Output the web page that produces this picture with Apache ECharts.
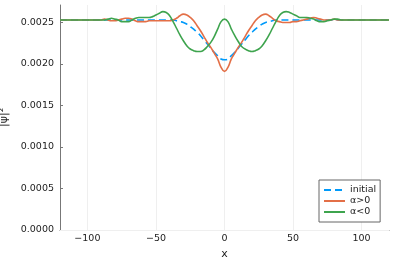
<!DOCTYPE html>
<html>
<head>
<meta charset="utf-8">
<script src="https://cdn.jsdelivr.net/npm/echarts@6/dist/echarts.min.js"></script>
<style>html,body{margin:0;padding:0;background:#fff;}#c{width:397px;height:267px;}</style>
</head>
<body>
<div id="c"></div>
<script>
var xs = [-120,-110,-100,-95,-92.5,-90,-87.5,-85,-82.5,-80,-77.5,-75,-72.5,-70,-67.5,-65,-62.5,-60,-57.5,-55,-52.5,-50,-47.5,-45,-42.5,-40,-37.5,-35,-32.5,-30,-27.5,-25,-22.5,-20,-17.5,-15,-12.5,-10,-7.5,-5,-2.5,0,2.5,5,7.5,10,12.5,15,17.5,20,22.5,25,27.5,30,32.5,35,37.5,40,42.5,45,47.5,50,52.5,55,57.5,60,62.5,65,67.5,70,72.5,75,77.5,80,82.5,85,87.5,90,92.5,95,100,110,120];

var initialVals = [0.00253,0.00253,0.00253,0.00253,0.00253,0.00253,0.00253,0.00253,0.00253,0.00253,0.00253,0.00253,0.00253,0.00253,0.00253,0.00253,0.00253,0.00253,0.00253,0.00253,0.00253,0.00253,0.00253,0.00253,0.00253,0.00253,0.00253,0.00252,0.00251,0.00250,0.00248,0.00245,0.00242,0.00238,0.00234,0.00229,0.00224,0.00219,0.00214,0.00210,0.00206,0.00205,0.00206,0.00210,0.00214,0.00219,0.00224,0.00229,0.00234,0.00238,0.00242,0.00245,0.00248,0.00250,0.00251,0.00252,0.00253,0.00253,0.00253,0.00253,0.00253,0.00253,0.00253,0.00253,0.00253,0.00253,0.00253,0.00253,0.00253,0.00253,0.00253,0.00253,0.00253,0.00253,0.00253,0.00253,0.00253,0.00253,0.00253,0.00253,0.00253,0.00253,0.00253];

var posVals = [0.00253,0.00253,0.00253,0.00253,0.00253,0.00253,0.00254,0.00253,0.00252,0.00252,0.00253,0.00254,0.00255,0.00255,0.00254,0.00252,0.00251,0.00251,0.00251,0.00252,0.00252,0.00252,0.00252,0.00252,0.00252,0.00252,0.00253,0.00255,0.00258,0.00260,0.00259,0.00256,0.00252,0.00246,0.00240,0.00233,0.00226,0.00220,0.00213,0.00206,0.00196,0.00191,0.00196,0.00206,0.00213,0.00220,0.00226,0.00233,0.00240,0.00246,0.00252,0.00256,0.00259,0.00260,0.00258,0.00255,0.00252,0.00251,0.00250,0.00250,0.00250,0.00251,0.00251,0.00252,0.00253,0.00254,0.00255,0.00256,0.00255,0.00254,0.00253,0.00253,0.00253,0.00254,0.00253,0.00253,0.00253,0.00253,0.00253,0.00253,0.00253,0.00253,0.00253];

var negVals = [0.00253,0.00253,0.00253,0.00253,0.00253,0.00253,0.00253,0.00254,0.00255,0.00254,0.00253,0.00251,0.00251,0.00251,0.00253,0.00255,0.00256,0.00256,0.00256,0.00256,0.00257,0.00259,0.00261,0.00263,0.00262,0.00258,0.00251,0.00243,0.00235,0.00228,0.00222,0.00218,0.00216,0.00215,0.00215,0.00217,0.00221,0.00226,0.00233,0.00242,0.00251,0.00254,0.00251,0.00242,0.00234,0.00227,0.00221,0.00218,0.00216,0.00215,0.00216,0.00218,0.00222,0.00228,0.00235,0.00243,0.00251,0.00258,0.00262,0.00263,0.00262,0.00260,0.00258,0.00256,0.00256,0.00256,0.00255,0.00254,0.00252,0.00251,0.00251,0.00252,0.00253,0.00254,0.00254,0.00253,0.00253,0.00253,0.00253,0.00253,0.00253,0.00253,0.00253];

var seriesNames = ['initial', 'α>0', 'α<0'];
var xTicks = [-100, -50, 0, 50, 100];
var yTicks = [0, 0.0005, 0.0010, 0.0015, 0.0020, 0.0025];

function pairs(v) { return xs.map(function (x, i) { return [x, v[i]]; }); }

var FONT = 'DejaVu Sans';
var chart = echarts.init(document.getElementById('c'), null, {renderer: 'canvas'});
var gridLines = xTicks.map(function (v) { return {xAxis: v}; })
  .concat(yTicks.map(function (v) { return {yAxis: v}; }));

chart.setOption({
  animation: false,
  backgroundColor: '#fff',
  grid: {left: 60, right: 8, top: 5, bottom: 37, containLabel: false, outerBoundsMode: 'none'},
  xAxis: {
    type: 'value', min: -120, max: 120,
    name: 'x', nameLocation: 'middle', nameGap: 17,
    nameTextStyle: {fontFamily: FONT, fontSize: 11, color: '#222'},
    axisLine: {show: true, onZero: false, lineStyle: {color: '#777', width: 1}},
    axisTick: {show: true, inside: true, length: 3, customValues: xTicks, lineStyle: {color: '#777'}},
    axisLabel: {customValues: xTicks, margin: 4, fontFamily: FONT, fontSize: 9.5, color: '#222',
      formatter: function (v) { return v < 0 ? '\u2212' + Math.abs(v) : String(v); }},
    splitLine: {show: false}
  },
  yAxis: {
    type: 'value', min: 0, max: 0.00271,
    name: '|ψ|²', nameLocation: 'middle', nameGap: 41, nameRotate: 90,
    nameTextStyle: {fontFamily: FONT, fontSize: 11, color: '#222'},
    axisLine: {show: true, onZero: false, lineStyle: {color: '#777', width: 1}},
    axisTick: {show: true, inside: true, length: 3, customValues: yTicks, lineStyle: {color: '#777'}},
    axisLabel: {customValues: yTicks, margin: 6, fontFamily: FONT, fontSize: 9.5, color: '#222',
      formatter: function (v) { return v.toFixed(4); }},
    splitLine: {show: false}
  },
  legend: {
    data: seriesNames,
    orient: 'vertical', left: 319, top: 180,
    itemWidth: 21, itemHeight: 10, itemGap: 1,
    padding: [5, 4, 5, 4],
    itemStyle: {opacity: 0},
    backgroundColor: '#fff', borderColor: '#666', borderWidth: 1, borderRadius: 0,
    textStyle: {fontFamily: FONT, fontSize: 9.5, color: '#222'}
  },
  series: [
    {
      type: 'line', name: '_grid', data: [], z: 1, silent: true,
      markLine: {silent: true, symbol: ['none', 'none'], z: 1, animation: false,
        label: {show: false}, emphasis: {disabled: true},
        lineStyle: {color: '#efefef', width: 1, type: 'solid'},
        data: gridLines}
    },
    {type: 'line', name: seriesNames[0], data: pairs(initialVals), showSymbol: false, symbol: 'none', smooth: true,
      lineStyle: {color: '#009AFA', width: 1.6, type: [7, 4]}, itemStyle: {color: '#009AFA'}, z: 2},
    {type: 'line', name: seriesNames[1], data: pairs(posVals), showSymbol: false, symbol: 'none', smooth: true,
      lineStyle: {color: '#E36F47', width: 1.6}, itemStyle: {color: '#E36F47'}, z: 3},
    {type: 'line', name: seriesNames[2], data: pairs(negVals), showSymbol: false, symbol: 'none', smooth: true,
      lineStyle: {color: '#3EA44E', width: 1.6}, itemStyle: {color: '#3EA44E'}, z: 4}
  ]
});
</script>
</body>
</html>
